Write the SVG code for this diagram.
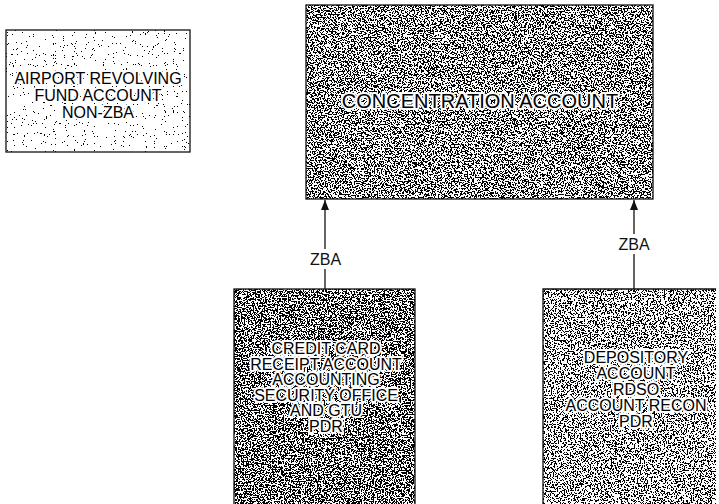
<svg xmlns="http://www.w3.org/2000/svg" width="719" height="504" viewBox="0 0 719 504">
<style>
  .frame { fill: none; stroke: #111; stroke-width: 1.3; }
  .lbl { font-family: "Liberation Sans", Arial, sans-serif; font-size: 16px; fill: #000; text-anchor: middle; stroke: #fff; stroke-width: 4; paint-order: stroke; stroke-linejoin: round; }
  .big { font-size: 20px; }
  .zba { font-family: "Liberation Sans", Arial, sans-serif; font-size: 16px; fill: #111; text-anchor: middle; }
  .conn { stroke: #111; stroke-width: 1.3; fill: none; }
</style>
<defs>
  <filter id="texLight" x="0" y="0" width="1" height="1" color-interpolation-filters="sRGB">
    <feTurbulence type="fractalNoise" baseFrequency="0.9" numOctaves="2" seed="4" result="n"/>
    <feColorMatrix in="n" type="matrix" values="0 0 0 0 0  0 0 0 0 0  0 0 0 0 0  3 0 0 0 -1.65" result="a"/>
    <feComponentTransfer in="a" result="d"><feFuncA type="discrete" tableValues="0 1"/></feComponentTransfer>
    <feComposite in="d" in2="SourceGraphic" operator="over"/>
  </filter>
  <filter id="texMid" x="0" y="0" width="1" height="1" color-interpolation-filters="sRGB">
    <feTurbulence type="fractalNoise" baseFrequency="0.7" numOctaves="2" seed="7" result="n"/>
    <feColorMatrix in="n" type="matrix" values="0 0 0 0 0  0 0 0 0 0  0 0 0 0 0  3 0 0 0 -1.06" result="a"/>
    <feComponentTransfer in="a" result="d"><feFuncA type="discrete" tableValues="0 1"/></feComponentTransfer>
    <feComposite in="d" in2="SourceGraphic" operator="over"/>
  </filter>
  <filter id="texDark" x="0" y="0" width="1" height="1" color-interpolation-filters="sRGB">
    <feTurbulence type="fractalNoise" baseFrequency="0.7" numOctaves="2" seed="11" result="n"/>
    <feColorMatrix in="n" type="matrix" values="0 0 0 0 0  0 0 0 0 0  0 0 0 0 0  3 0 0 0 -1.0" result="a"/>
    <feComponentTransfer in="a" result="d"><feFuncA type="discrete" tableValues="0 1"/></feComponentTransfer>
    <feComposite in="d" in2="SourceGraphic" operator="over"/>
  </filter>
  <filter id="texDep" x="0" y="0" width="1" height="1" color-interpolation-filters="sRGB">
    <feTurbulence type="fractalNoise" baseFrequency="0.7" numOctaves="2" seed="19" result="n"/>
    <feColorMatrix in="n" type="matrix" values="0 0 0 0 0  0 0 0 0 0  0 0 0 0 0  3 0 0 0 -1.12" result="a"/>
    <feComponentTransfer in="a" result="d"><feFuncA type="discrete" tableValues="0 1"/></feComponentTransfer>
    <feComposite in="d" in2="SourceGraphic" operator="over"/>
  </filter>
  <marker id="arr" viewBox="0 0 10 10" refX="10" refY="5" markerWidth="10" markerHeight="10" markerUnits="userSpaceOnUse" orient="auto">
    <path d="M0,1 L10,5 L0,9 Z" fill="#111"/>
  </marker>
</defs>

<g id="airport">
  <rect x="6" y="30" width="184" height="122" fill="#fff" filter="url(#texLight)"/>
  <rect class="frame" x="6" y="30" width="184" height="122"/>
  <text class="lbl" x="98" y="83.5">AIRPORT REVOLVING</text>
  <text class="lbl" x="98" y="100.5">FUND ACCOUNT</text>
  <text class="lbl" x="98" y="117.5">NON-ZBA</text>
</g>

<g id="concentration">
  <rect x="306" y="5" width="347" height="194" fill="#fff" filter="url(#texMid)"/>
  <rect class="frame" x="306" y="5" width="347" height="194"/>
  <text class="lbl big" x="480" y="108">CONCENTRATION ACCOUNT</text>
</g>

<g id="creditcard">
  <rect x="234" y="289" width="181" height="220" fill="#fff" filter="url(#texDark)"/>
  <rect class="frame" x="234" y="289" width="181" height="220"/>
  <text class="lbl" x="326" y="354">CREDIT CARD</text>
  <text class="lbl" x="326" y="369.5">RECEIPT ACCOUNT</text>
  <text class="lbl" x="326" y="385">ACCOUNTING</text>
  <text class="lbl" x="326" y="400.5">SECURITY OFFICE</text>
  <text class="lbl" x="326" y="416">AND GTU</text>
  <text class="lbl" x="326" y="431.5">PDR</text>
</g>

<g id="depository">
  <rect x="543" y="289" width="173" height="220" fill="#fff" filter="url(#texDep)"/>
  <path class="frame" d="M543,509 L543,289 L716,289"/>
  <text class="lbl" x="636" y="363">DEPOSITORY</text>
  <text class="lbl" x="636" y="379">ACCOUNT</text>
  <text class="lbl" x="636" y="395">RDSO</text>
  <text class="lbl" x="636" y="411">ACCOUNT RECON</text>
  <text class="lbl" x="636" y="427">PDR</text>
</g>

<g id="connectors">
  <path class="conn" d="M325,289 L325,269"/>
  <path class="conn" d="M325,249 L325,200" marker-end="url(#arr)"/>
  <text class="zba" x="325.5" y="265">ZBA</text>
  <path class="conn" d="M634,289 L634,254"/>
  <path class="conn" d="M634,234 L634,200" marker-end="url(#arr)"/>
  <text class="zba" x="634" y="250">ZBA</text>
</g>
</svg>
